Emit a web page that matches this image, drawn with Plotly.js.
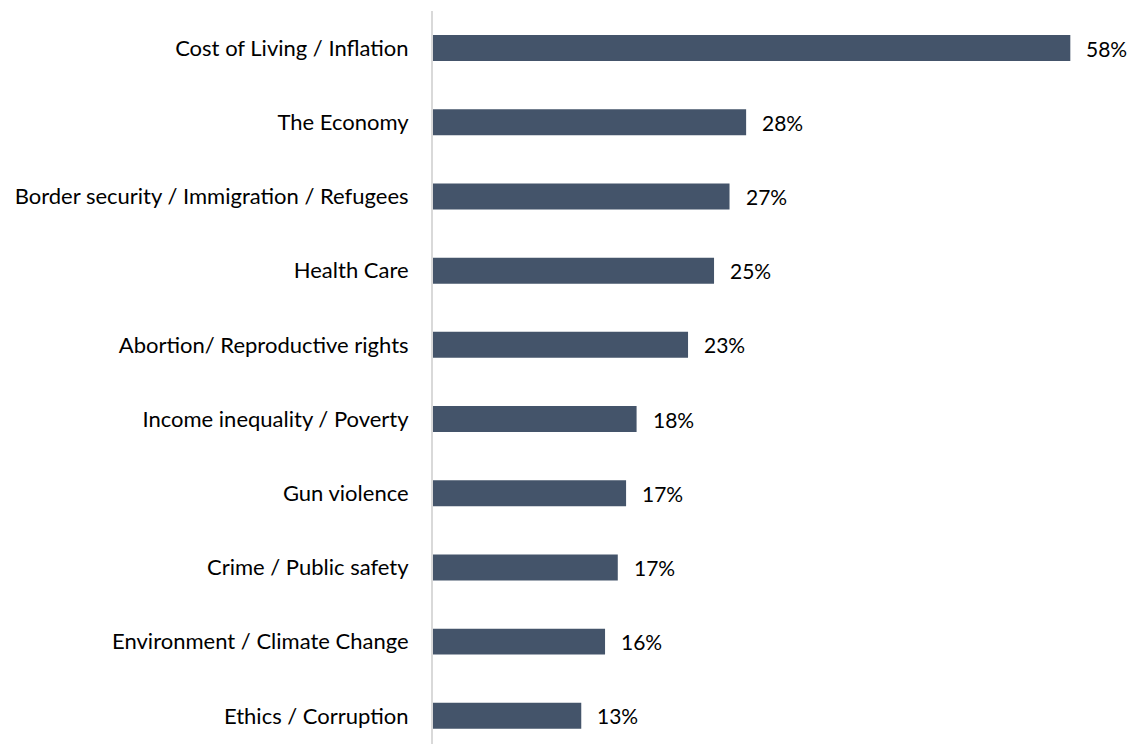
<!DOCTYPE html>
<html>
<head>
<meta charset="utf-8">
<script src="https://cdn.plot.ly/plotly-3.0.1.min.js"></script>
<style>
html,body{margin:0;padding:0;background:#fff;}
#chart{width:1130px;height:744px;}
</style>
</head>
<body>
<div id="chart"></div>
<script>
// Data
const categories = [
  "Cost of Living / Inflation",
  "The Economy",
  "Border security / Immigration / Refugees",
  "Health Care",
  "Abortion/ Reproductive rights",
  "Income inequality / Poverty",
  "Gun violence",
  "Crime / Public safety",
  "Environment / Climate Change",
  "Ethics / Corruption"
];
const values = [57.6, 28.3, 26.8, 25.4, 23.05, 18.4, 17.45, 16.7, 15.55, 13.4];
const valueLabels = ["58%", "28%", "27%", "25%", "23%", "18%", "17%", "17%", "16%", "13%"];

const FONT = "Lato, 'Open Sans', sans-serif";
const BAR = "#44546a";

const trace = {
  type: "bar",
  orientation: "h",
  x: values,
  y: categories,
  marker: {color: BAR, line: {width: 0}},
  hoverinfo: "skip"
};

const annotations = categories.map((c, i) => ({
  x: values[i],
  y: c,
  xref: "x",
  yref: "y",
  text: valueLabels[i],
  showarrow: false,
  xanchor: "left",
  yanchor: "middle",
  xshift: 14,
  font: {family: FONT, size: 21, color: "#000"}
}));

const layout = {
  width: 1130,
  height: 744,
  margin: {l: 433, r: 11, t: 11, b: 0},
  paper_bgcolor: "#fff",
  plot_bgcolor: "#fff",
  showlegend: false,
  bargap: 0.65,
  xaxis: {
    range: [0, 62],
    showgrid: false,
    zeroline: false,
    showline: false,
    showticklabels: false,
    ticks: ""
  },
  yaxis: {
    type: "category",
    categoryorder: "array",
    categoryarray: categories,
    range: [9.38, -0.5],
    showgrid: false,
    zeroline: false,
    showline: true,
    linecolor: "#d9d9d9",
    linewidth: 2,
    ticks: "outside",
    ticklen: 18,
    tickcolor: "rgba(0,0,0,0)",
    tickfont: {family: FONT, size: 22, color: "#000"}
  },
  annotations: annotations
};

Plotly.newPlot("chart", [trace], layout, {displayModeBar: false, staticPlot: true});
</script>
</body>
</html>
